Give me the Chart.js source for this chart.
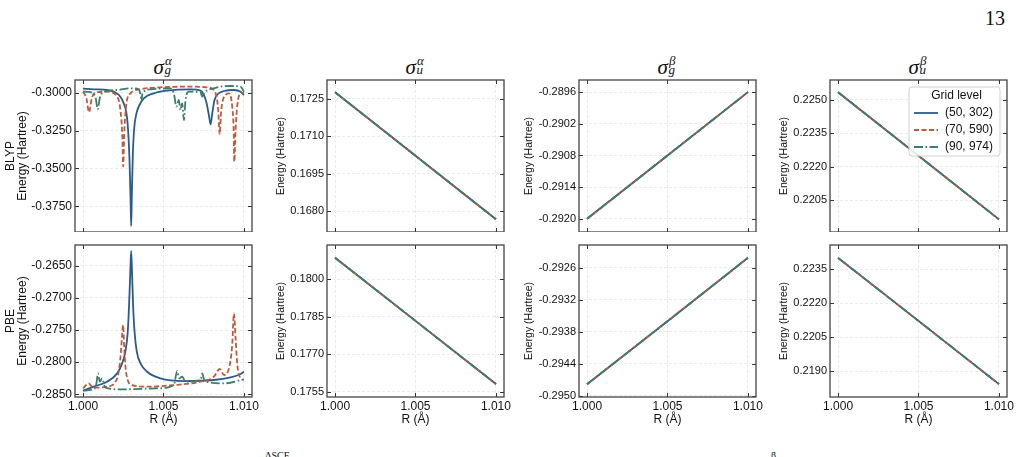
<!DOCTYPE html>
<html>
<head>
<meta charset="utf-8">
<script src="https://cdn.jsdelivr.net/npm/chart.js@4.4.0/dist/chart.umd.min.js"></script>
<style>
html, body { margin: 0; padding: 0; background: #fff; }
body { width: 1024px; height: 457px; overflow: hidden; position: relative; font-family: "Liberation Sans", Arial, sans-serif; }
canvas { position: absolute; }
.m { position: absolute; font-family: "Liberation Serif", "DejaVu Serif", serif; font-style: italic; color: #111; white-space: nowrap; }
.pg { position: absolute; font-family: "Liberation Serif", serif; font-size: 20px; line-height: 20px; color: #111; }
.cap { position: absolute; font-family: "Liberation Serif", serif; font-size: 10px; line-height: 10px; color: #111; }
</style>
</head>
<body>
<div class="pg" style="left:985px; top:8px;">13</div>
<div class="cap" style="left:265px; top:451px;">ΔSCF</div>
<div class="cap" style="left:771px; top:451px;">β</div>
<script>
// ---- data ----
const GRIDS = ['(50, 302)', '(70, 590)', '(90, 974)'];
const X_TICKS = [1.000, 1.005, 1.010];
const R3 = [1.000, 1.005, 1.010];

// BLYP sigma_g alpha (noisy)
const blypSgaR50 = [1.0000,1.00066,1.00149,1.00191,1.00232,1.00253,1.0027,1.0028,1.00288,1.00295,1.00299,1.00303,1.00309,1.00317,1.00332,1.00351,1.00378,1.0044,1.00523,1.00668,1.0073,1.00751,1.00768,1.00782,1.00793,1.00803,1.00817,1.00838,1.00876,1.00938,1.00979,1.0100];
const blypSgaE50 = [-0.29736,-0.2978,-0.29824,-0.29934,-0.30264,-0.30704,-0.31363,-0.32463,-0.34222,-0.3686,-0.38795,-0.3686,-0.34222,-0.32463,-0.31363,-0.30814,-0.30374,-0.30044,-0.29868,-0.2978,-0.29868,-0.30154,-0.30704,-0.31473,-0.32089,-0.31363,-0.30484,-0.30088,-0.2989,-0.29824,-0.29934,-0.30154];
const blypSgaR70 = [1.0000,1.00021,1.00037,1.00054,1.00077,1.0015,1.00212,1.00232,1.00245,1.00249,1.00257,1.0027,1.00295,1.00357,1.00481,1.00668,1.00772,1.00824,1.0084,1.00849,1.00859,1.00886,1.00907,1.00927,1.00936,1.0094,1.00948,1.00959,1.00979,1.0100];
const blypSgaE70 = [-0.29934,-0.30374,-0.31297,-0.30374,-0.3,-0.29934,-0.30264,-0.31143,-0.33122,-0.34881,-0.32463,-0.30704,-0.30044,-0.2978,-0.29648,-0.29604,-0.29648,-0.30044,-0.31143,-0.32749,-0.31143,-0.30154,-0.30044,-0.30923,-0.32463,-0.34552,-0.32463,-0.30814,-0.30044,-0.3];
const blypSgaR90 = [1.0000,1.00056,1.00079,1.00091,1.00104,1.00129,1.00212,1.00295,1.00346,1.00357,1.00363,1.00369,1.00419,1.00544,1.00564,1.00581,1.00595,1.00606,1.00616,1.00627,1.00637,1.00658,1.0073,1.00741,1.00751,1.00813,1.00917,1.00979,1.0100];
const blypSgaE90 = [-0.29934,-0.3,-0.30374,-0.31099,-0.30374,-0.29934,-0.29824,-0.29714,-0.2978,-0.30154,-0.30594,-0.30044,-0.2978,-0.29714,-0.30044,-0.30923,-0.30484,-0.31143,-0.30704,-0.31803,-0.30484,-0.29934,-0.3,-0.30264,-0.30044,-0.29714,-0.2956,-0.29604,-0.29934];

// PBE sigma_g alpha (noisy)
const pbeSgaR50 = [1.0000,1.00066,1.00149,1.00212,1.00243,1.00263,1.00278,1.00286,1.00293,1.00299,1.00305,1.00311,1.0032,1.00334,1.00357,1.00398,1.00481,1.00627,1.00813,1.00917,1.00979,1.0100];
const pbeSgaE50 = [-0.28443,-0.28381,-0.28303,-0.28174,-0.28018,-0.27837,-0.27526,-0.27111,-0.26645,-0.26272,-0.26645,-0.27111,-0.27526,-0.27837,-0.28018,-0.28148,-0.28251,-0.28293,-0.28277,-0.28236,-0.28184,-0.28148];
const pbeSgaR70 = [1.0000,1.00035,1.00056,1.00087,1.00149,1.00212,1.00232,1.00243,1.00249,1.00257,1.0027,1.00305,1.00398,1.00564,1.0073,1.00813,1.00849,1.00876,1.00907,1.00927,1.00938,1.00948,1.00959,1.00979];
const pbeSgaE70 = [-0.28407,-0.28329,-0.28381,-0.28396,-0.28381,-0.28251,-0.2794,-0.27578,-0.27422,-0.27837,-0.28199,-0.28355,-0.28381,-0.28355,-0.28303,-0.28225,-0.28106,-0.28199,-0.28096,-0.27733,-0.27241,-0.2763,-0.28044,-0.28277];
const pbeSgaR90 = [1.0000,1.00066,1.00083,1.00093,1.00104,1.00118,1.00139,1.00232,1.00461,1.00564,1.00585,1.00598,1.00616,1.00637,1.0073,1.00741,1.00755,1.00876,1.0100];
const pbeSgaE90 = [-0.28443,-0.28417,-0.28329,-0.28174,-0.28303,-0.28251,-0.28396,-0.28422,-0.28407,-0.28355,-0.28137,-0.28251,-0.28225,-0.28303,-0.28277,-0.28174,-0.28293,-0.28329,-0.28267];

// smooth panels: the three grids lie on top of each other
const blypSuaE = [0.17277, 0.17022, 0.16767];
const pbeSuaE  = [0.18087, 0.17834, 0.17581];
const blypSgbE = [-0.29200, -0.29080, -0.28960];
const pbeSgbE  = [-0.29478, -0.29360, -0.29241];
const blypSubE = [0.22535, 0.22249, 0.21963];
const pbeSubE  = [0.22401, 0.22122, 0.21842];

// y tick labels per panel
const blypSgaTicks = [-0.375, -0.35, -0.325, -0.3];
const pbeSgaTicks  = [-0.285, -0.28, -0.275, -0.27, -0.265];
const blypSuaTicks = [0.168, 0.1695, 0.171, 0.1725];
const pbeSuaTicks  = [0.1755, 0.177, 0.1785, 0.18];
const blypSgbTicks = [-0.292, -0.2914, -0.2908, -0.2902, -0.2896];
const pbeSgbTicks  = [-0.295, -0.2944, -0.2938, -0.2932, -0.2926];
const blypSubTicks = [0.2205, 0.222, 0.2235, 0.225];
const pbeSubTicks  = [0.219, 0.2205, 0.222, 0.2235];

// ---- layout ----
const COL_LEFT = [75, 327, 579, 830];
const ROW_TOP = [80, 245];
const PLOT_W = 177, PLOT_H = 152;
const AX_W = [75, 56, 60, 56];
const AX_H = [0, 32];
const PAD_T = 10, PAD_R = 18;
const ROW_NAMES = ['BLYP', 'PBE'];

const STYLES = [
    { color: '#2a5b8c', dash: [], order: 3 },
    { color: '#c1593b', dash: [5, 2.5], order: 2 },
    { color: '#3d7d6b', dash: [9, 2.5, 1.6, 2.5], order: 1 }
];

const TITLES = [
    { sym: 'σ', sup: 'α', sub: 'g' },
    { sym: 'σ', sup: 'α', sub: 'u' },
    { sym: 'σ', sup: 'β', sub: 'g' },
    { sym: 'σ', sup: 'β', sub: 'u' }
];

const panels = [
    { row: 0, col: 0, series: [[blypSgaR50, blypSgaE50], [blypSgaR70, blypSgaE70], [blypSgaR90, blypSgaE90]], min: -0.3919, max: -0.29165, ticks: blypSgaTicks, smooth: true },
    { row: 1, col: 0, series: [[pbeSgaR50, pbeSgaE50], [pbeSgaR70, pbeSgaE70], [pbeSgaR90, pbeSgaE90]], min: -0.28541, max: -0.26179, ticks: pbeSgaTicks, smooth: true },
    { row: 0, col: 1, series: [[R3, blypSuaE], [R3, blypSuaE], [R3, blypSuaE]], min: 0.16716, max: 0.17326, ticks: blypSuaTicks },
    { row: 1, col: 1, series: [[R3, pbeSuaE], [R3, pbeSuaE], [R3, pbeSuaE]], min: 0.17529, max: 0.18138, ticks: pbeSuaTicks },
    { row: 0, col: 2, series: [[R3, blypSgbE], [R3, blypSgbE], [R3, blypSgbE]], min: -0.29225, max: -0.28937, ticks: blypSgbTicks },
    { row: 1, col: 2, series: [[R3, pbeSgbE], [R3, pbeSgbE], [R3, pbeSgbE]], min: -0.29502, max: -0.29217, ticks: pbeSgbTicks },
    { row: 0, col: 3, series: [[R3, blypSubE], [R3, blypSubE], [R3, blypSubE]], min: 0.21906, max: 0.2259, ticks: blypSubTicks, legend: true },
    { row: 1, col: 3, series: [[R3, pbeSubE], [R3, pbeSubE], [R3, pbeSubE]], min: 0.21785, max: 0.22458, ticks: pbeSubTicks }
];

// frame on all four sides with inward ticks, like the matplotlib axes
const framePlugin = {
    id: 'frame',
    afterDatasetsDraw(chart) {
        const { ctx, chartArea: a, scales: { x, y } } = chart;
        ctx.save();
        ctx.strokeStyle = '#333';
        ctx.lineWidth = 1;
        ctx.setLineDash([]);
        ctx.beginPath();
        x.ticks.forEach(t => {
            const px = Math.round(x.getPixelForValue(t.value)) + 0.5;
            ctx.moveTo(px, a.bottom); ctx.lineTo(px, a.bottom - 4);
            ctx.moveTo(px, a.top); ctx.lineTo(px, a.top + 4);
        });
        y.ticks.forEach(t => {
            const py = Math.round(y.getPixelForValue(t.value)) + 0.5;
            ctx.moveTo(a.left, py); ctx.lineTo(a.left + 4, py);
            ctx.moveTo(a.right, py); ctx.lineTo(a.right - 4, py);
        });
        ctx.stroke();
        ctx.strokeStyle = '#444';
        ctx.lineWidth = 1.3;
        ctx.strokeRect(a.left, a.top, a.right - a.left, a.bottom - a.top);
        ctx.restore();
    }
};

const legendPlugin = {
    id: 'gridLegend',
    afterDraw(chart) {
        const { ctx, chartArea: a } = chart;
        const bw = 91, bh = 69;
        const bx = a.right - 98, by = a.top + 7;
        ctx.save();
        ctx.beginPath();
        ctx.roundRect(bx, by, bw, bh, 3);
        ctx.fillStyle = 'rgba(255,255,255,0.85)';
        ctx.fill();
        ctx.strokeStyle = '#d0d0d0';
        ctx.lineWidth = 1;
        ctx.stroke();
        ctx.fillStyle = '#111';
        ctx.font = '12px "Liberation Sans", Arial, sans-serif';
        ctx.textBaseline = 'middle';
        ctx.textAlign = 'center';
        ctx.fillText('Grid level', bx + bw / 2 + 2, by + 9);
        ctx.textAlign = 'left';
        chart.data.datasets.forEach((ds, i) => {
            const yy = by + 26 + i * 17;
            ctx.strokeStyle = ds.borderColor;
            ctx.lineWidth = ds.borderWidth;
            ctx.setLineDash(ds.borderDash || []);
            ctx.beginPath();
            ctx.moveTo(bx + 5, yy);
            ctx.lineTo(bx + 29, yy);
            ctx.stroke();
            ctx.setLineDash([]);
            ctx.fillText(ds.label, bx + 36, yy);
        });
        ctx.restore();
    }
};

function makeTitle(col) {
    const t = TITLES[col];
    const cx = COL_LEFT[col] + PLOT_W / 2;
    const parts = [
        { txt: t.sym, size: 21, left: cx - 10, top: 57 },
        { txt: t.sup, size: 13, left: cx + 1.5, top: 54 },
        { txt: t.sub, size: 13, left: cx + 1, top: 63 }
    ];
    parts.forEach(p => {
        const d = document.createElement('div');
        d.className = 'm';
        d.textContent = p.txt;
        d.style.fontSize = p.size + 'px';
        d.style.lineHeight = p.size + 'px';
        d.style.left = p.left + 'px';
        d.style.top = p.top + 'px';
        document.body.appendChild(d);
    });
}

function makePanel(p) {
    const axW = AX_W[p.col], axH = AX_H[p.row];
    const cv = document.createElement('canvas');
    const w = axW + PLOT_W + PAD_R, h = PAD_T + PLOT_H + axH;
    cv.width = w; cv.height = h;
    cv.style.left = (COL_LEFT[p.col] - axW) + 'px';
    cv.style.top = (ROW_TOP[p.row] - PAD_T) + 'px';
    cv.style.width = w + 'px'; cv.style.height = h + 'px';
    document.body.appendChild(cv);

    const datasets = p.series.map((s, i) => ({
        label: GRIDS[i],
        data: s[0].map((r, k) => ({ x: r, y: s[1][k] })),
        borderColor: STYLES[i].color,
        borderDash: STYLES[i].dash,
        borderWidth: 1.8,
        order: STYLES[i].order,
        pointRadius: 0,
        fill: false,
        cubicInterpolationMode: p.smooth ? 'monotone' : 'default',
        tension: 0
    }));

    const first = p.col === 0;
    const yTitle = first ? [ROW_NAMES[p.row], 'Energy (Hartree)'] : 'Energy (Hartree)';
    const titleSize = first ? 12 : 10.5;
    const bottomRow = p.row === 1;

    new Chart(cv, {
        type: 'line',
        data: { datasets },
        options: {
            responsive: false,
            animation: false,
            devicePixelRatio: 1,
            layout: { padding: { top: PAD_T, right: PAD_R, left: 0, bottom: 0 } },
            plugins: { legend: { display: false }, tooltip: { enabled: false } },
            scales: {
                x: {
                    type: 'linear',
                    min: 0.9995, max: 1.0105,
                    afterBuildTicks: s => { s.ticks = X_TICKS.map(v => ({ value: v })); },
                    afterFit: s => { s.height = axH; s.paddingLeft = 0; s.paddingRight = 0; },
                    grid: { color: '#e6e6e6', lineWidth: 0.8, drawTicks: false },
                    border: { display: false, dash: [3, 2] },
                    ticks: {
                        display: bottomRow, padding: 2, maxRotation: 0, autoSkip: false, color: '#111',
                        font: { family: 'Liberation Sans', size: 12 },
                        callback: v => v.toFixed(3)
                    },
                    title: {
                        display: bottomRow, text: 'R (Å)', color: '#111',
                        font: { family: 'Liberation Sans', size: 12, lineHeight: 1 },
                        padding: { top: 0, bottom: 3 }
                    }
                },
                y: {
                    type: 'linear',
                    min: p.min, max: p.max,
                    afterBuildTicks: s => { s.ticks = p.ticks.map(v => ({ value: v })); },
                    afterFit: s => { s.width = axW; s.paddingTop = 0; s.paddingBottom = 0; },
                    grid: { color: '#e6e6e6', lineWidth: 0.8, drawTicks: false },
                    border: { display: false, dash: [3, 2] },
                    ticks: {
                        padding: 3, color: '#111',
                        font: { family: 'Liberation Sans', size: first ? 12 : 11 },
                        callback: v => v.toFixed(4)
                    },
                    title: {
                        display: true, text: yTitle, color: '#111',
                        font: { family: 'Liberation Sans', size: titleSize, lineHeight: 1 },
                        padding: { top: 5, bottom: 0 }
                    }
                }
            }
        },
        plugins: p.legend ? [framePlugin, legendPlugin] : [framePlugin]
    });
}

[0, 1, 2, 3].forEach(makeTitle);
panels.forEach(makePanel);
</script>
</body>
</html>
